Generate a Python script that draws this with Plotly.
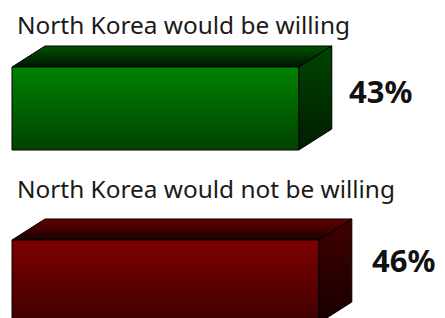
import plotly.graph_objects as go

# Data
labels = ["North Korea would be willing", "North Korea would not be willing"]
values = [43, 46]
pct_text = ["43%", "46%"]

# Styles (colours per bar: front top/bottom, top face back/front, side top/bottom)
front_cols = [("#008200", "#004200"), ("#7e0000", "#3e0000")]
top_cols = [("#005200", "#001400"), ("#640000", "#1a0000")]
side_cols = [("#004400", "#001e00"), ("#420000", "#160000")]

PAGE_W, PAGE_H = 445, 318
OFF = 8            # default page body margin
W, H = PAGE_W - OFF, PAGE_H - OFF
X0 = 12            # page pixel of value 0
K = 6.67           # pixels per percent
DX = 33 / K        # depth in x (data units)
DY = 21            # depth in y (pixels; y axis in page pixel units)
FRONT_H = 83
bar_top = [67, 240]
label_y = [24, 188]
pct_y = [91, 260]
pct_gap = [15, 18]

fig = go.Figure()

def poly(xs, ys, c0, c1, y0, y1):
    fig.add_trace(go.Scatter(
        x=xs + [xs[0]], y=ys + [ys[0]], mode="lines", fill="toself",
        fillgradient=dict(type="vertical", colorscale=[[0, c0], [1, c1]], start=y0, stop=y1),
        line=dict(color="#000000", width=1), hoverinfo="skip", showlegend=False))

annotations = []
for i, v in enumerate(values):
    t = bar_top[i]
    b = t + FRONT_H
    # top face
    poly([0, v, v + DX, DX], [t, t, t - DY, t - DY], top_cols[i][0], top_cols[i][1], t - DY, t)
    # side face
    poly([v, v + DX, v + DX, v], [t, t - DY, b - DY, b], side_cols[i][0], side_cols[i][1], t - DY, b)
    # front face
    poly([0, v, v, 0], [t, t, b, b], front_cols[i][0], front_cols[i][1], t, b)
    annotations.append(dict(x=0.45, y=label_y[i], xref="x", yref="y", text=labels[i],
                            showarrow=False, xanchor="left", yanchor="middle",
                            font=dict(family="Noto Sans", size=24.4, color="#1a1a1a")))
    annotations.append(dict(x=v + DX + pct_gap[i] / K, y=pct_y[i], xref="x", yref="y",
                            text=pct_text[i], showarrow=False, xanchor="left", yanchor="middle",
                            font=dict(family="Noto Sans", size=31, color="#111111", weight="bold")))

fig.update_layout(
    width=W, height=H, margin=dict(l=0, r=0, t=0, b=0),
    paper_bgcolor="white", plot_bgcolor="white",
    xaxis=dict(range=[(OFF - X0) / K, (PAGE_W - X0) / K], visible=False, fixedrange=True),
    yaxis=dict(range=[PAGE_H, OFF], visible=False, fixedrange=True),
    annotations=annotations, showlegend=False,
)
fig.write_html("out.html")
